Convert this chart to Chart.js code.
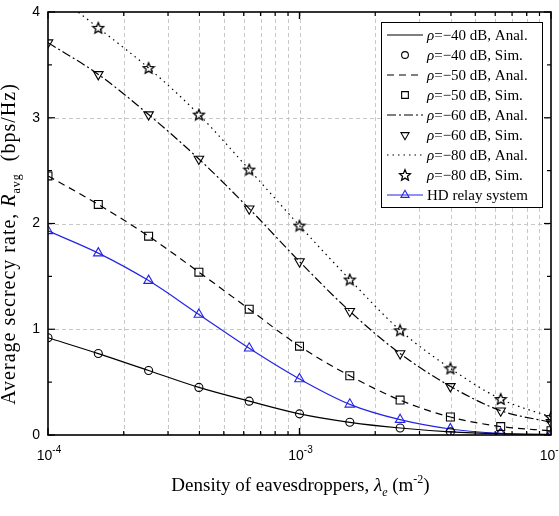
<!DOCTYPE html>
<html>
<head>
<meta charset="utf-8">
<script src="https://cdn.jsdelivr.net/npm/chart.js@4.4.0/dist/chart.umd.min.js"></script>
<style>
  body { margin: 0; background: #fff; }
  canvas { display: block; }
</style>
</head>
<body>
<canvas id="chart" width="559" height="516"></canvas>
<script>
// eavesdropper density (x) and secrecy rate for each rho
const densities = [1e-4, 1.585e-4, 2.512e-4, 3.981e-4, 6.310e-4, 1e-3, 1.585e-3, 2.512e-3, 3.981e-3, 6.310e-3, 1e-2];
const rate40 = [0.92, 0.77, 0.61, 0.45, 0.32, 0.20, 0.12, 0.066, 0.03, 0.012, 0.005];
const rate50 = [2.45, 2.18, 1.88, 1.54, 1.19, 0.84, 0.56, 0.33, 0.17, 0.08, 0.04];
const rate60 = [3.71, 3.41, 3.03, 2.61, 2.14, 1.64, 1.17, 0.77, 0.46, 0.23, 0.12];
const rate80 = [4.22, 3.85, 3.47, 3.03, 2.51, 1.98, 1.47, 0.99, 0.63, 0.34, 0.17];
const rateHD = [1.93, 1.72, 1.46, 1.14, 0.82, 0.53, 0.29, 0.145, 0.057, 0.016, 0.004];

// axis ticks
const xGrid = [2e-4, 3e-4, 4e-4, 5e-4, 6e-4, 7e-4, 8e-4, 9e-4, 1e-3, 2e-3, 3e-3, 4e-3, 5e-3, 6e-3, 7e-3, 8e-3, 9e-3];
const xMajor = [1e-4, 1e-3, 1e-2];
const xMajorExp = ['-4', '-3', '-2'];
const yTicks = [0, 1, 2, 3, 4];
const yMinor = [0.5, 1.5, 2.5, 3.5];

const SERIF = '"Liberation Serif", "Times New Roman", serif';
const SANS = '"Liberation Sans", Arial, sans-serif';
const BLUE = '#2424e6';

function pts(values) {
    return densities.map((x, i) => ({ x: x, y: values[i] }));
}

// hollow five point star marker
function makeStar() {
    const c = document.createElement('canvas');
    c.width = 14; c.height = 14;
    const g = c.getContext('2d');
    g.beginPath();
    for (let i = 0; i < 10; i++) {
        const r = i % 2 === 0 ? 5.8 : 2.6;
        const a = -Math.PI / 2 + i * Math.PI / 5;
        const px = 7 + r * Math.cos(a), py = 7.5 + r * Math.sin(a);
        if (i === 0) g.moveTo(px, py); else g.lineTo(px, py);
    }
    g.closePath();
    g.strokeStyle = '#000';
    g.lineWidth = 1.3;
    g.stroke();
    return c;
}
const starImg = makeStar();

function anal(label, values, dash) {
    return {
        label: label, data: pts(values), borderColor: '#000', borderWidth: 1.2,
        borderDash: dash, pointRadius: 0, cubicInterpolationMode: 'monotone', fill: false
    };
}
function sim(label, values, style, radius, rotation) {
    return {
        label: label, data: pts(values), showLine: false, borderColor: '#000',
        backgroundColor: 'rgba(0,0,0,0)', pointStyle: style, pointRadius: radius,
        pointRotation: rotation || 0, pointBorderWidth: 1.1
    };
}

const datasets = [
    anal('=\u221240 dB, Anal.', rate40, []),
    sim('=\u221240 dB, Sim.', rate40, 'circle', 4),
    anal('=\u221250 dB, Anal.', rate50, [7, 5]),
    sim('=\u221250 dB, Sim.', rate50, 'rect', 5.6),
    anal('=\u221260 dB, Anal.', rate60, [9, 3, 2, 3]),
    sim('=\u221260 dB, Sim.', rate60, 'triangle', 5.5, 180),
    anal('=\u221280 dB, Anal.', rate80, [1.5, 4]),
    sim('=\u221280 dB, Sim.', rate80, starImg, 6),
    {
        label: 'HD relay system', data: pts(rateHD), borderColor: BLUE, borderWidth: 1.2,
        backgroundColor: 'rgba(0,0,0,0)', pointStyle: 'triangle', pointRadius: 5.5,
        pointBorderWidth: 1.1, cubicInterpolationMode: 'monotone', hdRelay: true
    }
];

// rich text: list of parts {t, font, dy}
function measureParts(ctx, parts) {
    let w = 0;
    parts.forEach(p => { ctx.font = p.font; w += ctx.measureText(p.t).width; });
    return w;
}
function drawParts(ctx, parts, x, y) {
    parts.forEach(p => {
        ctx.font = p.font;
        ctx.fillText(p.t, x, y + (p.dy || 0));
        x += ctx.measureText(p.t).width;
    });
}

const gridPlugin = {
    id: 'grid',
    beforeDatasetsDraw(chart) {
        const { ctx, chartArea: a, scales: { x, y } } = chart;
        ctx.save();
        ctx.strokeStyle = '#c8c8c8';
        ctx.lineWidth = 1;
        ctx.setLineDash([4, 3]);
        xGrid.forEach(v => {
            const px = Math.round(x.getPixelForValue(v)) + 0.5;
            ctx.beginPath(); ctx.moveTo(px, a.top); ctx.lineTo(px, a.bottom); ctx.stroke();
        });
        yTicks.slice(1, -1).forEach(v => {
            const py = Math.round(y.getPixelForValue(v)) + 0.5;
            ctx.beginPath(); ctx.moveTo(a.left, py); ctx.lineTo(a.right, py); ctx.stroke();
        });
        ctx.restore();
    }
};

const decorPlugin = {
    id: 'decor',
    afterDatasetsDraw(chart) {
        const { ctx, chartArea: a, scales: { x, y } } = chart;
        ctx.save();
        ctx.strokeStyle = '#000';
        ctx.fillStyle = '#000';

        // frame
        ctx.lineWidth = 1.6;
        ctx.strokeRect(a.left, a.top, a.right - a.left, a.bottom - a.top);

        // inward ticks
        ctx.lineWidth = 1.2;
        const tick = (x1, y1, x2, y2) => { ctx.beginPath(); ctx.moveTo(x1, y1); ctx.lineTo(x2, y2); ctx.stroke(); };
        xGrid.concat(xMajor).forEach(v => {
            const px = x.getPixelForValue(v);
            const len = xMajor.includes(v) ? 7 : 4;
            tick(px, a.bottom, px, a.bottom - len);
            tick(px, a.top, px, a.top + len);
        });
        yTicks.concat(yMinor).forEach(v => {
            const py = y.getPixelForValue(v);
            const len = yTicks.includes(v) ? 7 : 4;
            tick(a.left, py, a.left + len, py);
            tick(a.right, py, a.right - len, py);
        });

        // y tick labels
        ctx.font = '14px ' + SANS;
        ctx.textAlign = 'right';
        ctx.textBaseline = 'middle';
        yTicks.forEach(v => ctx.fillText(String(v), a.left - 8, y.getPixelForValue(v)));

        // x tick labels 10^n
        ctx.textAlign = 'left';
        ctx.textBaseline = 'alphabetic';
        xMajor.forEach((v, i) => {
            const parts = [
                { t: '10', font: '14px ' + SANS },
                { t: xMajorExp[i], font: '10px ' + SANS, dy: -7 }
            ];
            const w = measureParts(ctx, parts);
            drawParts(ctx, parts, x.getPixelForValue(v) - w / 2 + 1, a.bottom + 25);
        });

        // x title
        const xt = [
            { t: 'Density of eavesdroppers, ', font: '19px ' + SERIF },
            { t: '\u03bb', font: 'italic 19px ' + SERIF },
            { t: 'e', font: 'italic 12px ' + SERIF, dy: 5 },
            { t: ' (m', font: '19px ' + SERIF },
            { t: '-2', font: '12px ' + SERIF, dy: -8 },
            { t: ')', font: '19px ' + SERIF }
        ];
        const xw = measureParts(ctx, xt);
        drawParts(ctx, xt, (a.left + a.right) / 2 - xw / 2 + 1, 491);

        // y title
        ctx.save();
        ctx.translate(15, 244);
        ctx.rotate(-Math.PI / 2);
        ctx.letterSpacing = '1px';
        const yt = [
            { t: 'Average secrecy rate, ', font: '20px ' + SERIF },
            { t: 'R', font: 'italic 20px ' + SERIF },
            { t: 'avg', font: '12px ' + SERIF, dy: 5 },
            { t: '  (bps/Hz)', font: '20px ' + SERIF }
        ];
        const yw = measureParts(ctx, yt);
        drawParts(ctx, yt, -yw / 2, 0);
        ctx.restore();

        // legend box
        const lx = 381, ly = 22, lw = 161, rowH = 20;
        const ds = chart.data.datasets;
        ctx.fillStyle = '#fff';
        ctx.fillRect(lx, ly, lw, rowH * ds.length + 5);
        ctx.lineWidth = 1;
        ctx.strokeStyle = '#000';
        ctx.strokeRect(lx + 0.5, ly + 0.5, lw, rowH * ds.length + 5);
        ds.forEach((d, i) => {
            const cy = ly + 13 + i * rowH;
            ctx.strokeStyle = d.borderColor;
            if (d.pointRadius === 0 || d.hdRelay) {
                ctx.lineWidth = d.borderWidth;
                ctx.setLineDash(d.borderDash || []);
                ctx.beginPath(); ctx.moveTo(387, cy); ctx.lineTo(423, cy); ctx.stroke();
                ctx.setLineDash([]);
            }
            if (d.pointRadius > 0) {
                ctx.fillStyle = 'rgba(0,0,0,0)';
                ctx.lineWidth = d.pointBorderWidth;
                Chart.helpers.drawPoint(ctx, {
                    pointStyle: d.pointStyle, radius: d.pointRadius * 0.85,
                    rotation: d.pointRotation || 0, borderWidth: d.pointBorderWidth
                }, 405, cy);
            }
            ctx.fillStyle = '#000';
            ctx.textBaseline = 'middle';
            const parts = d.hdRelay
                ? [{ t: d.label, font: '15px ' + SERIF }]
                : [{ t: '\u03c1', font: 'italic 15px ' + SERIF }, { t: d.label, font: '15px ' + SERIF }];
            drawParts(ctx, parts, 427, cy + 1);
        });
        ctx.restore();
    }
};

new Chart(document.getElementById('chart'), {
    type: 'line',
    data: { datasets: datasets },
    options: {
        responsive: false,
        animation: false,
        devicePixelRatio: 1,
        layout: { padding: { left: 48, right: 8, top: 12, bottom: 81 } },
        plugins: { legend: { display: false }, tooltip: { enabled: false } },
        scales: {
            x: {
                type: 'logarithmic', min: 1e-4, max: 1e-2,
                ticks: { display: false }, grid: { display: false }, border: { display: false },
                afterFit(scale) { scale.height = 0; }
            },
            y: {
                min: 0, max: 4,
                ticks: { display: false }, grid: { display: false }, border: { display: false },
                afterFit(scale) { scale.width = 0; }
            }
        }
    },
    plugins: [gridPlugin, decorPlugin]
});
</script>
</body>
</html>
